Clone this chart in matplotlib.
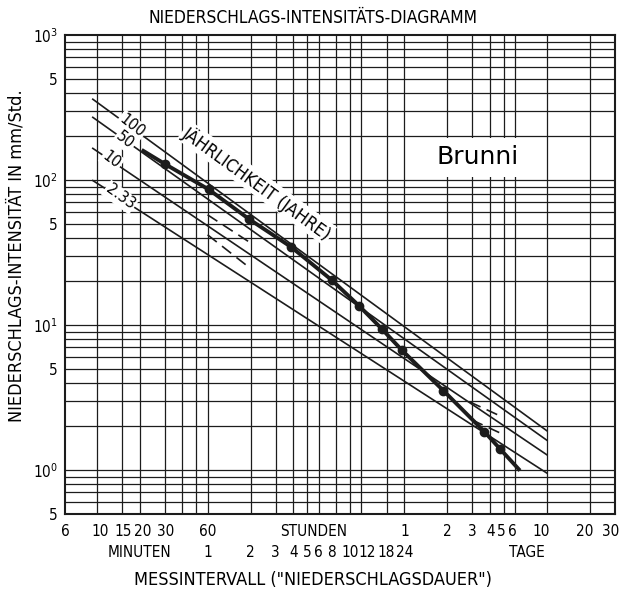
import numpy as np
import matplotlib
matplotlib.use('Agg')
import matplotlib.pyplot as plt
from matplotlib.patches import Rectangle

plt.rcParams['font.family'] = ['DejaVu Sans']
plt.rcParams['font.stretch'] = 'condensed'

# Messintervall in Minuten, Intensitaet in mm/Std.
dur_line = [9.4, 14400]
i_100 = [360, 1.86]
i_50 = [270, 1.6]
i_10 = [165, 1.27]
i_233 = [99, 0.95]

# gestrichelte Stuecke
dash_dur_a = [60, 120]
dash_a = [57.4, 36.8]
dash_b = [41.8, 24.5]
dash_dur_c = [4150, 6740]
dash_c = [2.94, 2.36]
dash_dur_d = [4290, 6740]
dash_d = [2.21, 1.80]

# Brunni
brunni_dur = [20.7, 30, 61, 118, 231, 445, 695, 998, 1378, 2706, 5228, 6734, 9312]
brunni_int = [161, 129, 86, 53.4, 34.5, 20.4, 13.5, 9.4, 6.72, 3.52, 1.84, 1.40, 0.99]

# Gitter
vgrid = [10, 15, 20, 30, 40, 50, 60, 120, 180, 240, 300, 360, 480, 600, 720,
         1080, 1440, 2880, 4320, 5760, 7200, 8640, 14400, 28800]
hgrid = [m * 10.0**k for k in range(-1, 3) for m in range(1, 10)]

# Beschriftung unter der Achse (Lage in Minuten)
top_pos = [6, 10.6, 15.3, 21, 30.5, 60, 330, 1440, 2880, 4320, 5760, 6900, 8200, 13000, 26500, 40500]
top_lab = ['6', '10', '15', '20', '30', '60', 'STUNDEN', '1', '2', '3', '4', '5', '6', '10', '20', '30']
bot_pos = [20, 60, 120, 180, 240, 300, 360, 440, 600, 790, 1080, 1440, 10400]
bot_lab = ['MINUTEN', '1', '2', '3', '4', '5', '6', '8', '10', '12', '18', '24', 'TAGE']

ytick_pos = [0.5, 1, 5, 10, 50, 100, 500, 1000]
ytick_lab = ['5', '$10^0$', '5', '$10^1$', '5', '$10^2$', '5', '$10^3$']

k = '#1c1c1c'
fig = plt.figure(figsize=(6.25, 5.91), dpi=100)
ax = fig.add_axes([0.104, 0.131, 0.88, 0.810])
ax.set_xscale('log')
ax.set_yscale('log')
ax.set_xlim(6, 43200)
ax.set_ylim(0.5, 1000)

for v in vgrid:
    ax.axvline(v, color=k, lw=0.9, zorder=1)
for h in hgrid:
    if 0.5 < h < 1000:
        ax.axhline(h, color=k, lw=0.9, zorder=1)

# Feld fuer den Stationsnamen
ax.add_patch(Rectangle((2000, 104), 11300 - 2000, 196 - 104, facecolor='white',
                       edgecolor='none', zorder=2))
ax.text(4700, 144, 'Brunni', fontsize=18, ha='center', va='center', zorder=3,
        fontstretch='normal')

for vals in [i_100, i_50, i_10, i_233]:
    ax.plot(dur_line, vals, color=k, lw=1.2, zorder=3)
for d, vals in [(dash_dur_a, dash_a), (dash_dur_a, dash_b), (dash_dur_c, dash_c), (dash_dur_d, dash_d)]:
    ax.plot(d, vals, color=k, lw=1.2, dashes=(7, 4), zorder=3)

ax.plot(brunni_dur, brunni_int, color=k, lw=2.8, zorder=4, solid_capstyle='butt',
        marker='o', ms=6, markevery=list(range(1, len(brunni_dur) - 1)))

lbl = dict(fontsize=11.5, ha='center', va='center', zorder=5,
           bbox=dict(facecolor='white', edgecolor='none', pad=1.0))
ax.text(17.7, 236, '100', rotation=-38, **lbl)
ax.text(15.8, 187, '50', rotation=-38, **lbl)
ax.text(12.75, 137, '10', rotation=-37, **lbl)
ax.text(14.6, 76, '2.33', rotation=-36, **lbl)
lbl['fontsize'] = 13
ax.text(133, 95, 'JÄHRLICHKEIT (JAHRE)', rotation=-36, **lbl)

for sp in ax.spines.values():
    sp.set_linewidth(1.5)
    sp.set_color(k)

ax.minorticks_off()
ax.set_xticks([])
ax.set_yticks(ytick_pos)
ax.set_yticklabels(ytick_lab, fontsize=11)
ax.tick_params(axis='y', length=0, pad=5)

tr = ax.get_xaxis_transform()
for p, s in zip(top_pos, top_lab):
    ax.text(p, -0.038, s, transform=tr, ha='center', va='center', fontsize=11)
for p, s in zip(bot_pos, bot_lab):
    ax.text(p, -0.082, s, transform=tr, ha='center', va='center', fontsize=11)

fig.text(0.5, 0.97, 'NIEDERSCHLAGS-INTENSITÄTS-DIAGRAMM', ha='center', va='center', fontsize=12.5)
fig.text(0.5, 0.018, 'MESSINTERVALL ("NIEDERSCHLAGSDAUER")', ha='center', va='center', fontsize=13)
fig.text(0.026, 0.568, 'NIEDERSCHLAGS-INTENSITÄT IN mm/Std.', rotation=90, ha='center',
         va='center', fontsize=13)

fig.savefig('out.png', dpi=100)
